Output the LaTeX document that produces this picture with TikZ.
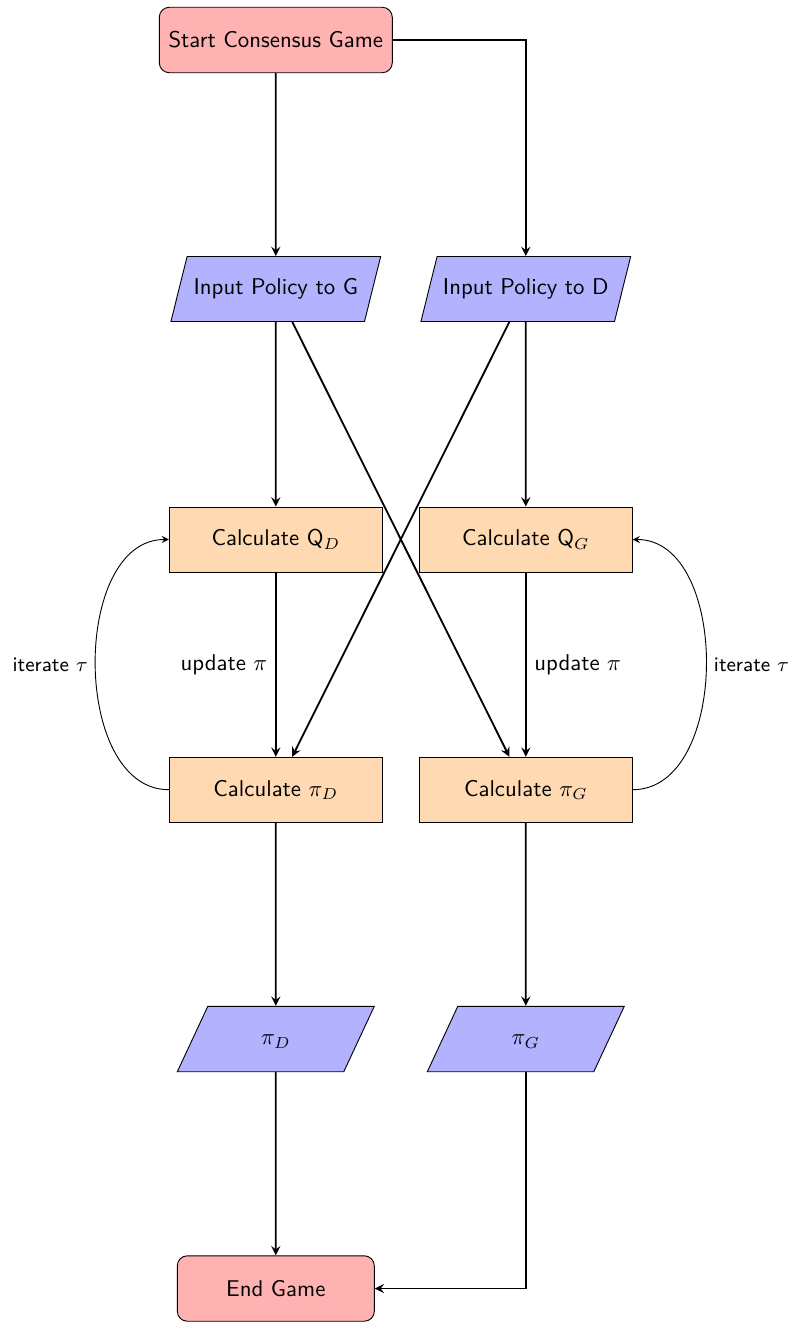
\documentclass[tikz,border=0pt]{standalone}
\usetikzlibrary{shapes.geometric,arrows}
\begin{document}
\begin{tikzpicture}[x=0.4386pt,y=-0.4386pt,
  every node/.style={font=\sffamily},
  startstop/.style={rectangle, rounded corners=4.4pt, draw=black, fill=red!30,
    minimum height=28.7pt, inner sep=0pt, text centered},
  iobase/.style={trapezium, trapezium stretches body=true, draw=black, fill=blue!30,
    text height=7pt, text depth=2pt, inner xsep=2pt, text centered},
  inbox/.style={iobase, trapezium left angle=76, trapezium right angle=104,
    minimum width=92pt, inner ysep=9.75pt},
  outbox/.style={iobase, trapezium left angle=65, trapezium right angle=115,
    minimum width=86.4pt, inner ysep=9.85pt},
  procbox/.style={rectangle, draw=black, fill=orange!30,
    minimum width=93.4pt, minimum height=28.5pt, text centered},
  arrow/.style={thick,->,>=stealth},
  looparrow/.style={->,>=stealth},
  looplabel/.style={font=\sffamily\small}]
\useasboundingbox (0,0) rectangle (793,1322);

% start and inputs
\node[startstop, minimum width=102.2pt] (start) at (275.8,40) {Start Consensus Game};
\node[inbox] (inG) at (275.8,289) {Input Policy to G};
\node[inbox] (inD) at (525.8,289) {Input Policy to D};

% calculation boxes
\node[procbox] (cQD) at (275.8,539.5) {Calculate Q$_D$};
\node[procbox] (cQG) at (525.8,539.5) {Calculate Q$_G$};
\node[procbox] (cPD) at (275.8,789.7) {Calculate $\pi_D$};
\node[procbox] (cPG) at (525.8,789.7) {Calculate $\pi_G$};

% outputs and end
\node[outbox] (oD) at (275.8,1039) {$\pi_D$};
\node[outbox] (oG) at (525.8,1039) {$\pi_G$};
\node[startstop, minimum width=86.4pt] (endg) at (275.8,1288.5) {End Game};

% connectors
\draw[arrow] (start) -- (inG);
\draw[arrow] (start.east) -| (inD);
\draw[arrow] (inG) -- (cQD);
\draw[arrow] (inD) -- (cQG);
\draw[arrow] (inG) -- (cPG);
\draw[arrow] (inD) -- (cPD);
\draw[arrow] (cQD) -- node[left] {update $\pi$} (cPD);
\draw[arrow] (cQG) -- node[right] {update $\pi$} (cPG);
\draw[looparrow] (cPD.west) to[out=180,in=180] node[left, looplabel] {iterate $\tau$} (cQD.west);
\draw[looparrow] (cPG.east) to[out=0,in=0] node[right, looplabel] {iterate $\tau$} (cQG.east);
\draw[arrow] (cPD) -- (oD);
\draw[arrow] (cPG) -- (oG);
\draw[arrow] (oD) -- (endg);
\draw[arrow] (oG) |- (endg);
\end{tikzpicture}
\end{document}
